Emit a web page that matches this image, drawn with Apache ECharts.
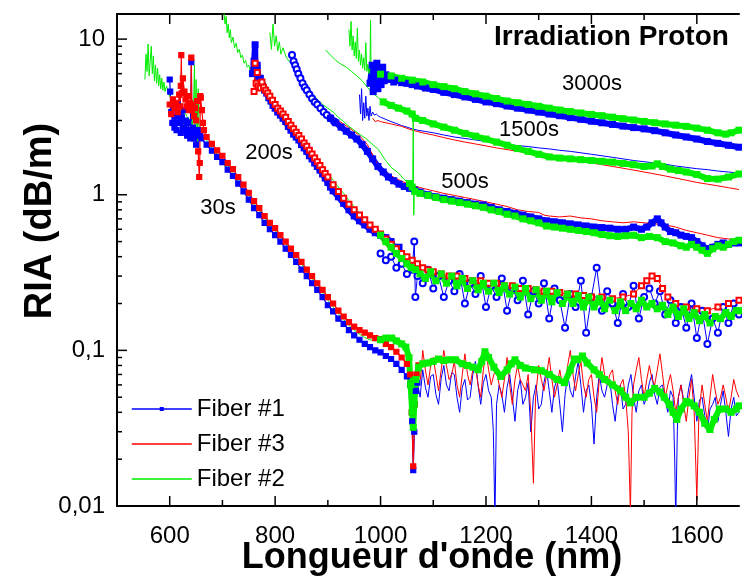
<!DOCTYPE html>
<html>
<head>
<meta charset="utf-8">
<script src="https://cdn.jsdelivr.net/npm/echarts@6/dist/echarts.min.js"></script>
<style>html,body{margin:0;padding:0;background:#fff}#c{width:742px;height:579px}</style>
</head>
<body>
<div id="c"></div>
<script>
// ---------- axis definitions ----------
const X_MIN = 500, X_MAX = 1680;
const Y_MIN = 0.01, Y_MAX = 14.5;
const xMajorTicks = [600, 800, 1000, 1200, 1400, 1600];
const xMinorTicks = [700, 900, 1100, 1300, 1500];
const yMajorTicks = [0.01, 0.1, 1, 10];
const yTickLabels = ['0,01', '0,1', '1', '10'];
const yMinorTicks = [0.02,0.03,0.04,0.05,0.06,0.07,0.08,0.09,0.2,0.3,0.4,0.5,0.6,0.7,0.8,0.9,2,3,4,5,6,7,8,9];
const curveLabels = ['30s', '200s', '500s', '1500s', '3000s'];
const legendNames = ['Fiber #1', 'Fiber #3', 'Fiber #2'];

// ---------- Fiber #1 (blue) ----------
const f1_30s = [[600,5.5],[601,4.6],[603,3.4],[605,2.9],[607,3.6],[609,2.7],[611,3.2],[613,2.6],[615,3.8],[617,2.9],[619,3.3],[621,2.5],[623,3.1],[625,2.7],[627,3.5],[629,2.6],[631,3.0],[633,2.4],[635,2.9],[637,2.6],[639,2.3],[641,7.1],[642,2.5],[644,2.7],[646,2.3],[648,2.5],[650,2.1],[653,2.6],[655,2.4],[658,2.45],[660,2.3],[670,2.1],[680,1.92],[690,1.75],[700,1.62],[710,1.45],[720,1.32],[730,1.18],[740,1.05],[750,0.93],[760,0.82],[770,0.74],[780,0.66],[790,0.6],[800,0.55],[810,0.5],[820,0.45],[830,0.41],[840,0.37],[850,0.33],[860,0.3],[870,0.27],[880,0.245],[890,0.22],[900,0.195],[910,0.178],[920,0.16],[930,0.148],[940,0.135],[950,0.125],[960,0.117],[970,0.11],[980,0.105],[990,0.1],[1000,0.097],[1010,0.092],[1020,0.088],[1030,0.082],[1040,0.075],[1050,0.068],[1056,0.06],[1060,0.035],[1062,0.017],[1064,0.03],[1067,0.055],[1070,0.062]];
const f1_30s_noise = [[1070,0.062],[1075,0.05],[1080,0.075],[1085,0.058],[1090,0.05],[1095,0.068],[1100,0.07],[1105,0.052],[1110,0.045],[1115,0.066],[1120,0.08],[1125,0.06],[1130,0.055],[1135,0.072],[1140,0.07],[1145,0.05],[1150,0.04],[1155,0.058],[1160,0.065],[1165,0.048],[1170,0.05],[1175,0.07],[1180,0.085],[1185,0.06],[1190,0.045],[1195,0.062],[1200,0.07],[1205,0.055],[1210,0.05],[1214,0.03],[1217,0.008],[1220,0.045],[1225,0.06],[1230,0.052],[1235,0.04],[1240,0.058],[1245,0.07],[1250,0.05],[1255,0.035],[1260,0.055],[1265,0.065],[1270,0.045],[1275,0.05],[1280,0.062],[1285,0.03],[1290,0.05],[1295,0.06],[1300,0.042],[1305,0.045],[1310,0.062],[1315,0.075],[1320,0.055],[1325,0.04],[1330,0.058],[1335,0.065],[1340,0.045],[1345,0.03],[1350,0.052],[1355,0.07],[1360,0.055],[1365,0.05],[1370,0.068],[1375,0.085],[1380,0.06],[1385,0.04],[1390,0.055],[1395,0.06],[1400,0.045],[1405,0.025],[1410,0.05],[1415,0.07],[1420,0.055],[1425,0.05],[1430,0.06],[1435,0.065],[1440,0.045],[1445,0.035],[1450,0.05],[1455,0.06],[1460,0.042],[1465,0.045],[1470,0.06],[1475,0.07],[1480,0.05],[1485,0.04],[1490,0.055],[1495,0.06],[1500,0.045],[1505,0.05],[1510,0.062],[1515,0.07],[1520,0.052],[1525,0.045],[1530,0.058],[1535,0.06],[1540,0.048],[1545,0.04],[1550,0.055],[1555,0.05],[1558,0.02],[1560,0.008],[1563,0.03],[1565,0.05],[1570,0.06],[1575,0.048],[1580,0.045],[1585,0.058],[1590,0.07],[1595,0.05],[1600,0.035],[1605,0.048],[1610,0.05],[1615,0.038],[1620,0.03],[1625,0.042],[1630,0.045],[1635,0.05],[1640,0.035],[1645,0.045],[1650,0.055],[1655,0.04],[1660,0.028],[1665,0.042],[1670,0.05],[1675,0.038],[1680,0.04]];
const f1_200s_thick = [[757,6.0],[760,7.2],[762,9.2],[763,6.2],[766,6.8],[769,5.5],[772,5.6],[776,5.0],[780,4.7],[784,4.5],[788,4.2],[792,4.0],[796,3.75],[800,3.6],[805,3.4],[810,3.25],[815,3.1],[820,2.95],[825,2.75],[830,2.6],[835,2.45],[840,2.35],[845,2.25],[850,2.1],[855,2.0],[860,1.9],[865,1.78],[870,1.7],[875,1.6],[880,1.52],[885,1.44],[890,1.36],[895,1.28],[900,1.2],[905,1.12],[910,1.06],[920,0.97],[930,0.88],[940,0.8],[950,0.73],[960,0.68],[970,0.64],[980,0.6],[990,0.57],[1000,0.55],[1010,0.53],[1020,0.5],[1030,0.43],[1035,0.46]];
const f1_200s_circ = [[1000,0.42],[1010,0.38],[1020,0.4],[1030,0.34],[1040,0.36],[1050,0.31],[1060,0.33],[1064,0.5],[1066,0.22],[1070,0.3],[1080,0.27],[1090,0.33],[1100,0.25],[1110,0.3],[1120,0.22],[1130,0.28],[1140,0.24],[1150,0.31],[1160,0.2],[1170,0.27],[1180,0.23],[1190,0.3],[1200,0.19],[1210,0.26],[1220,0.22],[1230,0.29],[1240,0.18],[1250,0.25],[1260,0.21],[1270,0.28],[1280,0.17],[1290,0.24],[1300,0.2],[1310,0.27],[1320,0.16],[1330,0.25],[1340,0.21],[1350,0.14],[1360,0.23],[1370,0.19],[1380,0.28],[1390,0.13],[1400,0.22],[1410,0.34],[1420,0.18],[1430,0.24],[1440,0.2],[1450,0.15],[1460,0.23],[1470,0.19],[1480,0.26],[1490,0.16],[1500,0.22],[1510,0.25],[1520,0.2],[1530,0.24],[1540,0.17],[1550,0.21],[1560,0.15],[1570,0.19],[1580,0.14],[1590,0.2],[1600,0.12],[1610,0.18],[1620,0.11],[1630,0.16],[1640,0.13],[1650,0.19],[1660,0.15],[1670,0.2],[1680,0.17]];
const f1_500s_circ = [[832,7.9],[835,7.2],[838,6.8],[841,6.4],[844,6.0],[848,5.6],[852,5.2],[856,4.9],[860,4.7],[865,4.4],[870,4.15],[875,3.95],[880,3.8],[886,3.6],[892,3.4],[898,3.25],[905,3.1],[912,2.95]];
const f1_500s_thick = [[905,3.1],[915,2.9],[925,2.72],[935,2.56],[945,2.42],[955,2.28],[965,2.1],[975,1.9],[985,1.7],[995,1.52],[1005,1.4],[1015,1.3],[1025,1.23],[1035,1.17],[1045,1.13],[1055,1.1],[1065,1.07],[1075,1.04],[1090,1.0],[1105,0.97],[1120,0.95],[1135,0.93],[1150,0.91],[1165,0.89],[1180,0.87],[1195,0.86],[1210,0.83],[1225,0.8],[1240,0.78],[1255,0.76],[1270,0.74],[1285,0.72],[1300,0.7],[1315,0.68],[1330,0.67],[1345,0.66],[1360,0.65],[1375,0.64],[1390,0.63],[1405,0.62],[1420,0.615],[1435,0.61],[1450,0.6],[1465,0.6],[1480,0.62],[1495,0.6],[1505,0.62],[1515,0.66],[1525,0.7],[1532,0.66],[1540,0.62],[1550,0.58],[1560,0.57],[1570,0.55],[1580,0.54],[1590,0.53],[1600,0.5],[1610,0.47],[1620,0.45],[1630,0.46],[1640,0.48],[1650,0.49],[1660,0.48],[1670,0.49],[1680,0.49]];
const f1_1500s = [[960,4.4],[962,3.3],[964,4.8],[966,3.0],[968,3.9],[970,3.1],[972,4.3],[974,3.2],[976,3.6],[978,3.0],[980,3.7],[982,3.2],[985,3.4],[988,3.25],[992,3.3],[996,3.2],[1000,3.15],[1010,3.05],[1020,2.95],[1030,2.87],[1040,2.78],[1050,2.72],[1060,2.65],[1070,2.6],[1085,2.55],[1100,2.5],[1120,2.42],[1140,2.35],[1160,2.3],[1180,2.25],[1200,2.2],[1220,2.15],[1240,2.1],[1260,2.07],[1280,2.04],[1300,2.0],[1320,1.97],[1340,1.93],[1360,1.9],[1380,1.86],[1400,1.82],[1420,1.78],[1440,1.74],[1460,1.7],[1480,1.66],[1500,1.63],[1520,1.6],[1540,1.57],[1560,1.53],[1580,1.5],[1600,1.47],[1620,1.45],[1640,1.42],[1660,1.4],[1680,1.38]];
const f1_3000s = [[980,5.2],[984,6.8],[986,4.6],[988,6.2],[990,5.0],[993,7.0],[995,4.8],[998,6.3],[1001,5.1],[1004,6.6],[1007,5.4],[1010,5.9],[1015,5.5],[1020,5.7],[1025,5.3],[1030,5.45],[1040,5.25],[1050,5.2],[1060,5.1],[1070,5.0],[1085,4.85],[1100,4.75],[1120,4.55],[1140,4.4],[1160,4.25],[1180,4.1],[1200,3.95],[1220,3.85],[1240,3.72],[1260,3.6],[1280,3.5],[1300,3.4],[1320,3.3],[1340,3.22],[1360,3.13],[1380,3.05],[1400,2.97],[1420,2.9],[1440,2.83],[1460,2.76],[1480,2.7],[1500,2.65],[1520,2.58],[1540,2.5],[1560,2.42],[1580,2.35],[1600,2.28],[1620,2.2],[1640,2.14],[1660,2.08],[1680,2.02]];

// ---------- Fiber #3 (red) ----------
const f3_1500s = [[985,3.1],[990,2.95],[995,3.0],[1000,2.95],[1020,2.85],[1040,2.75],[1060,2.6],[1080,2.5],[1100,2.42],[1120,2.33],[1140,2.25],[1160,2.18],[1180,2.12],[1200,2.06],[1220,2.0],[1240,1.95],[1260,1.9],[1280,1.86],[1300,1.82],[1320,1.77],[1340,1.72],[1360,1.68],[1380,1.64],[1400,1.6],[1420,1.56],[1440,1.52],[1460,1.48],[1480,1.44],[1500,1.4],[1520,1.36],[1540,1.32],[1560,1.28],[1580,1.24],[1600,1.2],[1620,1.17],[1640,1.14],[1660,1.11],[1680,1.08]];
const f3_500s = [[900,3.3],[920,3.0],[940,2.7],[960,2.4],[975,2.1],[985,1.8],[995,1.55],[1005,1.42],[1020,1.32],[1040,1.22],[1060,1.15],[1080,1.1],[1100,1.06],[1120,1.02],[1140,0.99],[1160,0.96],[1180,0.93],[1200,0.9],[1220,0.87],[1240,0.84],[1260,0.8],[1280,0.78],[1300,0.77],[1310,0.74],[1320,0.73],[1340,0.72],[1360,0.73],[1380,0.71],[1400,0.7],[1420,0.68],[1440,0.67],[1460,0.66],[1480,0.67],[1500,0.66],[1520,0.65],[1540,0.64],[1560,0.62],[1580,0.59],[1600,0.57],[1620,0.55],[1640,0.53],[1660,0.52],[1680,0.51]];
const f3_30s = [[600,3.8],[603,3.3],[606,4.1],[609,3.6],[612,3.9],[615,3.4],[618,4.4],[620,3.7],[621,5.0],[622,7.9],[623,4.5],[625,5.6],[628,4.6],[630,4.1],[632,3.7],[634,4.3],[636,3.5],[638,3.9],[640,3.6],[641,7.6],[642,3.5],[644,3.8],[646,3.2],[648,3.6],[650,3.0],[652,4.0],[654,1.9],[656,1.3],[657,1.6],[658,4.3],[659,4.2],[661,3.5],[663,2.9],[665,2.6],[670,2.35],[680,2.12],[690,1.93],[700,1.78],[710,1.6],[720,1.46],[730,1.3],[740,1.16],[750,1.03],[760,0.91],[770,0.82],[780,0.73],[790,0.66],[800,0.61],[810,0.55],[820,0.5],[830,0.45],[840,0.41],[850,0.37],[860,0.33],[870,0.3],[880,0.27],[890,0.245],[900,0.22],[910,0.2],[920,0.18],[930,0.165],[940,0.152],[950,0.142],[960,0.135],[970,0.13],[980,0.125],[990,0.12],[1000,0.118],[1010,0.11],[1020,0.105],[1030,0.098],[1040,0.09],[1050,0.082],[1056,0.07],[1059,0.04],[1062,0.018],[1065,0.045],[1068,0.07],[1072,0.08]];
const f3_30s_noise = [[1072,0.08],[1076,0.065],[1080,0.1],[1085,0.075],[1090,0.06],[1095,0.08],[1100,0.09],[1105,0.07],[1110,0.055],[1115,0.075],[1120,0.1],[1125,0.08],[1130,0.065],[1135,0.07],[1140,0.085],[1145,0.06],[1150,0.05],[1155,0.07],[1160,0.095],[1165,0.07],[1170,0.06],[1175,0.075],[1180,0.08],[1185,0.06],[1190,0.05],[1195,0.075],[1200,0.1],[1205,0.075],[1210,0.06],[1215,0.07],[1220,0.075],[1225,0.06],[1230,0.05],[1235,0.065],[1240,0.09],[1245,0.06],[1250,0.045],[1255,0.065],[1260,0.08],[1265,0.065],[1270,0.06],[1275,0.055],[1280,0.07],[1285,0.04],[1290,0.014],[1294,0.05],[1300,0.08],[1305,0.065],[1310,0.055],[1315,0.07],[1320,0.09],[1325,0.065],[1330,0.05],[1335,0.06],[1340,0.075],[1345,0.06],[1350,0.06],[1355,0.08],[1360,0.1],[1365,0.07],[1370,0.055],[1375,0.07],[1380,0.085],[1385,0.06],[1390,0.05],[1395,0.065],[1400,0.07],[1405,0.05],[1410,0.04],[1415,0.065],[1420,0.09],[1425,0.07],[1430,0.06],[1435,0.07],[1440,0.075],[1445,0.055],[1450,0.045],[1455,0.06],[1460,0.065],[1465,0.05],[1470,0.03],[1474,0.009],[1477,0.04],[1480,0.06],[1485,0.075],[1490,0.09],[1495,0.065],[1500,0.05],[1505,0.065],[1510,0.08],[1515,0.065],[1520,0.06],[1525,0.075],[1530,0.095],[1535,0.07],[1540,0.05],[1545,0.06],[1550,0.07],[1555,0.055],[1560,0.04],[1565,0.05],[1570,0.06],[1575,0.045],[1580,0.035],[1585,0.05],[1590,0.065],[1595,0.04],[1600,0.011],[1604,0.04],[1610,0.06],[1615,0.045],[1620,0.035],[1625,0.05],[1630,0.07],[1635,0.055],[1640,0.045],[1645,0.05],[1650,0.06],[1655,0.05],[1660,0.04],[1665,0.05],[1670,0.065],[1675,0.055],[1680,0.05]];
const f3_200s = [[760,4.6],[762,7.0],[764,5.2],[766,6.1],[768,5.0],[772,4.85],[775,5.3],[778,4.9],[782,4.7],[786,4.5],[790,4.3],[795,4.05],[800,3.8],[805,3.6],[810,3.45],[815,3.3],[820,3.15],[825,2.95],[830,2.8],[835,2.65],[840,2.52],[845,2.4],[850,2.28],[855,2.15],[860,2.05],[865,1.93],[870,1.83],[875,1.72],[880,1.63],[885,1.54],[890,1.45],[895,1.37],[900,1.3],[910,1.16],[920,1.05],[930,0.95],[940,0.87],[950,0.8],[960,0.74],[970,0.69],[980,0.64],[990,0.6],[1000,0.56],[1010,0.52],[1020,0.48],[1030,0.45],[1040,0.42],[1050,0.4],[1060,0.38],[1070,0.36],[1080,0.34],[1090,0.33],[1100,0.32],[1115,0.31],[1130,0.3],[1145,0.3],[1160,0.29],[1175,0.28],[1190,0.28],[1205,0.27],[1220,0.27],[1235,0.26],[1250,0.26],[1265,0.25],[1280,0.25],[1295,0.245],[1310,0.24],[1325,0.24],[1340,0.235],[1355,0.23],[1370,0.23],[1385,0.225],[1400,0.22],[1420,0.22],[1440,0.215],[1460,0.22],[1480,0.23],[1495,0.26],[1505,0.28],[1515,0.3],[1525,0.29],[1535,0.25],[1545,0.22],[1560,0.2],[1580,0.19],[1600,0.185],[1620,0.18],[1640,0.19],[1660,0.2],[1680,0.21]];

// ---------- Fiber #2 (green) ----------
const f2_30s_thin = [[553,5.5],[555,8.0],[557,6.2],[559,9.3],[561,5.8],[563,7.2],[565,9.0],[567,6.0],[569,7.8],[571,5.4],[573,6.8],[575,5.2],[577,6.5],[579,5.0],[581,5.9],[583,4.8],[585,5.6],[587,4.7],[589,5.3],[591,4.6],[594,5.0],[597,4.5],[600,4.3],[605,4.0],[610,3.8],[615,3.7],[620,3.5],[625,3.4],[630,3.3],[635,3.1],[640,3.0],[643,2.8],[645,3.5],[647,6.8],[648,2.6],[650,5.5],[652,2.0],[654,4.8],[656,2.4],[660,2.5],[667,2.3],[672,2.2],[680,2.0],[690,1.82],[700,1.68],[705,1.52],[710,1.55],[720,1.36],[725,1.33],[730,1.22],[740,1.1],[745,1.0],[750,0.99],[760,0.86],[770,0.8],[775,0.72],[780,0.72],[790,0.63],[800,0.6],[805,0.54],[810,0.54],[820,0.48],[830,0.44],[840,0.39],[850,0.36],[860,0.32],[870,0.29],[880,0.265],[890,0.235],[900,0.21],[910,0.19],[920,0.172],[930,0.158],[940,0.145],[950,0.135],[960,0.127],[970,0.121],[980,0.117],[990,0.115],[1000,0.117]];
const f2_200s_thin = [[702,16],[705,12.5],[707,14],[709,11],[711,12.5],[713,10.2],[715,11.5],[717,9.5],[720,10.3],[723,8.8],[726,9.4],[729,8.2],[732,8.6],[735,7.6],[738,7.9],[741,7.0],[744,7.3],[747,6.6],[750,6.8],[753,6.2],[756,6.1],[760,5.9],[765,5.6],[770,5.3],[775,5.0],[780,4.75],[790,4.35],[800,3.95],[810,3.6],[820,3.25],[830,2.95],[840,2.65],[850,2.4],[860,2.15],[870,1.92],[880,1.72],[890,1.53],[900,1.38],[910,1.24],[920,1.12],[930,1.02],[940,0.92],[950,0.84],[960,0.76],[970,0.7],[980,0.64],[990,0.59],[1000,0.55]];
const f2_500s_thin = [[790,11.0],[793,8.6],[796,12.5],[799,9.0],[802,10.5],[805,8.4],[808,9.6],[811,8.0],[815,8.8],[820,7.8],[825,7.3],[830,7.0],[835,6.6],[840,6.3],[845,6.0],[852,5.5],[860,5.0],[870,4.5],[880,4.1],[890,3.8],[900,3.6],[910,3.4],[920,3.15],[930,2.95],[940,2.75],[950,2.6],[960,2.45],[972,2.3],[985,2.1],[996,1.95],[1010,1.65],[1020,1.5],[1034,1.38],[1045,1.25],[1055,1.18],[1061,1.12],[1062,3.0],[1063,0.74],[1064,1.08],[1068,1.04]];
const f2_1500s_thin = [[896,8.5],[905,7.9],[915,7.3],[925,6.9],[935,6.6],[945,6.2],[955,5.8],[965,5.4],[975,4.9],[985,4.5],[996,4.2],[1005,3.95]];
const f2_3000s_thin = [[940,11.5],[942,9.0],[944,13.0],[946,8.5],[948,10.5],[950,7.8],[952,9.6],[954,7.5],[956,11.8],[958,7.2],[960,8.5],[962,6.8],[964,8.0],[966,6.5],[968,7.6],[970,6.3],[972,9.5],[974,6.2],[976,6.9],[978,6.0],[980,6.6],[981,13.2],[982,6.5],[984,5.9],[986,6.3],[990,6.1],[995,6.0],[1000,5.95]];
const f2_30s_thick = [[1000,0.117],[1010,0.12],[1021,0.12],[1030,0.115],[1040,0.11],[1048,0.105],[1054,0.09],[1057,0.06],[1060,0.04],[1062,0.032],[1064,0.045],[1067,0.065],[1072,0.078],[1080,0.082],[1090,0.083],[1100,0.085],[1110,0.088],[1120,0.086],[1130,0.087],[1142,0.087],[1155,0.082],[1165,0.08],[1175,0.078],[1185,0.075],[1192,0.085],[1198,0.098],[1205,0.09],[1215,0.078],[1228,0.068],[1240,0.075],[1248,0.082],[1255,0.087],[1265,0.08],[1275,0.077],[1292,0.075],[1305,0.074],[1320,0.07],[1335,0.065],[1349,0.062],[1360,0.075],[1368,0.088],[1374,0.087],[1383,0.092],[1392,0.083],[1405,0.075],[1415,0.07],[1425,0.065],[1440,0.06],[1455,0.055],[1465,0.05],[1474,0.046],[1485,0.05],[1500,0.05],[1510,0.053],[1520,0.057],[1530,0.054],[1538,0.05],[1548,0.045],[1555,0.04],[1562,0.036],[1570,0.042],[1580,0.047],[1587,0.046],[1595,0.044],[1605,0.04],[1615,0.034],[1625,0.031],[1633,0.036],[1643,0.042],[1655,0.042],[1665,0.04],[1675,0.042],[1680,0.044]];
const f2_200s_thick = [[1000,0.55],[1010,0.5],[1020,0.46],[1030,0.42],[1040,0.39],[1050,0.36],[1058,0.34],[1066,0.33],[1075,0.31],[1085,0.29],[1095,0.32],[1105,0.28],[1115,0.31],[1125,0.27],[1135,0.3],[1145,0.26],[1155,0.29],[1165,0.25],[1175,0.28],[1185,0.245],[1195,0.27],[1205,0.24],[1215,0.27],[1225,0.235],[1235,0.26],[1245,0.23],[1255,0.255],[1265,0.22],[1275,0.25],[1285,0.215],[1295,0.245],[1305,0.21],[1315,0.24],[1325,0.205],[1335,0.235],[1345,0.2],[1355,0.23],[1365,0.2],[1375,0.225],[1385,0.19],[1395,0.22],[1405,0.19],[1415,0.215],[1425,0.185],[1435,0.21],[1445,0.18],[1455,0.205],[1465,0.18],[1475,0.2],[1485,0.185],[1495,0.21],[1505,0.19],[1515,0.2],[1525,0.185],[1535,0.195],[1545,0.17],[1555,0.19],[1565,0.165],[1575,0.185],[1585,0.16],[1595,0.175],[1605,0.155],[1615,0.17],[1625,0.15],[1635,0.165],[1645,0.16],[1655,0.175],[1665,0.165],[1675,0.18],[1680,0.18]];
const f2_500s_thick = [[1055,1.18],[1060,1.12],[1065,1.05],[1075,1.02],[1090,0.99],[1105,0.96],[1120,0.93],[1135,0.91],[1150,0.89],[1165,0.87],[1180,0.85],[1195,0.83],[1210,0.8],[1225,0.78],[1240,0.75],[1255,0.73],[1270,0.7],[1285,0.68],[1300,0.66],[1315,0.63],[1330,0.62],[1345,0.61],[1360,0.6],[1375,0.59],[1390,0.58],[1405,0.57],[1420,0.555],[1435,0.545],[1450,0.54],[1465,0.545],[1480,0.55],[1495,0.53],[1510,0.54],[1525,0.53],[1540,0.5],[1555,0.49],[1570,0.47],[1580,0.46],[1590,0.48],[1600,0.46],[1610,0.44],[1620,0.42],[1630,0.45],[1640,0.47],[1650,0.46],[1660,0.48],[1670,0.5],[1680,0.51]];
const f2_1500s_thick = [[1005,3.95],[1020,3.75],[1034,3.6],[1050,3.45],[1060,3.3],[1066,3.1],[1080,3.0],[1100,2.85],[1120,2.72],[1140,2.6],[1160,2.48],[1180,2.38],[1200,2.28],[1220,2.18],[1240,2.08],[1260,1.98],[1280,1.9],[1300,1.82],[1320,1.75],[1340,1.72],[1360,1.7],[1380,1.68],[1400,1.66],[1420,1.64],[1440,1.62],[1460,1.59],[1480,1.56],[1500,1.52],[1515,1.53],[1525,1.58],[1535,1.52],[1550,1.46],[1565,1.43],[1580,1.4],[1600,1.35],[1620,1.27],[1640,1.26],[1660,1.3],[1680,1.36]];
const f2_3000s_thick = [[1000,5.95],[1020,5.8],[1040,5.6],[1060,5.45],[1080,5.3],[1100,5.1],[1120,4.95],[1140,4.8],[1160,4.6],[1180,4.45],[1200,4.3],[1220,4.15],[1240,4.0],[1260,3.9],[1280,3.8],[1300,3.7],[1320,3.6],[1340,3.5],[1360,3.42],[1380,3.35],[1400,3.28],[1420,3.22],[1440,3.15],[1460,3.08],[1480,3.02],[1500,2.96],[1520,2.9],[1540,2.85],[1560,2.8],[1580,2.75],[1600,2.68],[1620,2.6],[1640,2.5],[1655,2.45],[1665,2.5],[1680,2.6]];

// ---------- styles ----------
const BLUE = '#0000ff', RED = '#ff0000', GREEN = '#00ee00';
const FONT = "'Liberation Sans', Arial, sans-serif";

function thin(name, color, data) {
  return {type:'line', name, data, color, symbol:'none', showSymbol:false,
    lineStyle:{width:1, color}, silent:true, emphasis:{disabled:true}, animation:false};
}
function thick(name, color, data) {
  return {type:'line', name, data, color, symbol:'rect', symbolSize:7, showSymbol:true, showAllSymbol:true,
    itemStyle:{color}, lineStyle:{width:6, color}, silent:true, emphasis:{disabled:true}, animation:false};
}
function marked(name, color, data, sym, size, lw) {
  return {type:'line', name, data, color, symbol:sym, symbolSize:size, showSymbol:true, showAllSymbol:true,
    itemStyle:{color, borderColor:color, borderWidth:1.2}, lineStyle:{width:lw, color}, silent:true, emphasis:{disabled:true}, animation:false};
}

const series = [
  marked('Fiber #1', BLUE, f1_30s, 'rect', 5, 1.2),
  thin('Fiber #1', BLUE, f1_30s_noise),
  thick('Fiber #1', BLUE, f1_200s_thick),
  marked('Fiber #1', BLUE, f1_200s_circ, 'emptyCircle', 6, 1),
  marked('Fiber #1', BLUE, f1_500s_circ, 'emptyCircle', 6, 1),
  thick('Fiber #1', BLUE, f1_500s_thick),
  thin('Fiber #1', BLUE, f1_1500s),
  thick('Fiber #1', BLUE, f1_3000s),
  thin('Fiber #3', RED, f3_1500s),
  thin('Fiber #3', RED, f3_500s),
  marked('Fiber #3', RED, f3_30s, 'rect', 5, 1.2),
  thin('Fiber #3', RED, f3_30s_noise),
  marked('Fiber #3', RED, f3_200s, 'emptyRect', 5, 1),
  thin('Fiber #2', GREEN, f2_30s_thin),
  thin('Fiber #2', GREEN, f2_200s_thin),
  thin('Fiber #2', GREEN, f2_500s_thin),
  thin('Fiber #2', GREEN, f2_1500s_thin),
  thin('Fiber #2', GREEN, f2_3000s_thin),
  thick('Fiber #2', GREEN, f2_30s_thick),
  thick('Fiber #2', GREEN, f2_200s_thick),
  thick('Fiber #2', GREEN, f2_500s_thick),
  thick('Fiber #2', GREEN, f2_1500s_thick),
  thick('Fiber #2', GREEN, f2_3000s_thick)
];

const chart = echarts.init(document.getElementById('c'), null, {renderer:'canvas'});
const option = {
  animation:false,
  backgroundColor:'#fff',
  grid:{left:117, right:0, top:14, bottom:73, containLabel:false},
  xAxis:[{
    type:'value', min:X_MIN, max:X_MAX, interval:100, position:'bottom',
    axisLine:{show:true, lineStyle:{color:'#000', width:2}},
    axisTick:{show:false}, splitLine:{show:false},
    axisLabel:{color:'#000', fontSize:24, fontFamily:FONT, margin:18,
      formatter:v => (xMajorTicks.indexOf(Math.round(v)) >= 0 ? String(Math.round(v)) : '')}
  },{
    type:'value', min:X_MIN, max:X_MAX, interval:100, position:'top',
    axisLine:{show:true, onZero:false, lineStyle:{color:'#000', width:2}},
    axisTick:{show:false}, axisLabel:{show:false}, splitLine:{show:false}
  }],
  yAxis:{
    type:'log', logBase:10, min:Y_MIN, max:Y_MAX,
    axisLine:{show:true, lineStyle:{color:'#000', width:2}},
    axisTick:{show:false}, splitLine:{show:false}, minorTick:{show:false},
    axisLabel:{color:'#000', fontSize:24, fontFamily:FONT, margin:12, showMaxLabel:false,
      formatter:v => { const e = Math.log10(v); const r = Math.round(e);
        if (Math.abs(e - r) > 0.01) return ''; const i = yMajorTicks.indexOf(Math.pow(10, r));
        return i >= 0 ? yTickLabels[i] : ''; }}
  },
  legend:{
    orient:'vertical', left:126, top:392, itemWidth:60, itemHeight:5, itemGap:11, itemTextGap:4,
    textStyle:{color:'#000', fontSize:24, fontFamily:FONT, lineHeight:24},
    lineStyle:{width:1.5}, itemStyle:{borderWidth:0},
    data:[
      {name:legendNames[0]},
      {name:legendNames[1], itemStyle:{opacity:0}},
      {name:legendNames[2], itemStyle:{opacity:0}}
    ],
    selectedMode:false
  },
  series
};
chart.setOption(option);

// ---------- decorations: ticks, titles, curve labels ----------
const px = (x, y) => chart.convertToPixel({xAxisIndex:0, yAxisIndex:0}, [x, y]);
const g = [];
const tick = (x1, y1, x2, y2) => g.push({type:'line', shape:{x1, y1, x2, y2}, style:{stroke:'#000', lineWidth:1.5}, z:100, silent:true});
xMajorTicks.forEach(v => { const b = px(v, Y_MIN), t = px(v, Y_MAX); tick(b[0], b[1], b[0], b[1] - 10); tick(t[0], t[1], t[0], t[1] + 10); });
xMinorTicks.forEach(v => { const b = px(v, Y_MIN), t = px(v, Y_MAX); tick(b[0], b[1], b[0], b[1] - 6); tick(t[0], t[1], t[0], t[1] + 6); });
yMajorTicks.forEach(v => { const p = px(X_MIN, v); tick(p[0], p[1], p[0] + 10, p[1]); });
yMinorTicks.forEach(v => { const p = px(X_MIN, v); tick(p[0], p[1], p[0] + 5, p[1]); });

const txt = (text, x, y, size, weight, align, rot) => g.push({type:'text', x, y, rotation:rot || 0, z:110, silent:true,
  style:{text, fill:'#000', font:`${weight} ${size}px ${FONT}`, textAlign:align || 'center', textVerticalAlign:'middle'}});
txt('Irradiation Proton', 494, 37, 28, 'bold', 'left');
txt(curveLabels[4], 592, 84, 22, 'normal');
txt(curveLabels[3], 529, 130, 22, 'normal');
txt(curveLabels[2], 465, 182, 22, 'normal');
txt(curveLabels[1], 269, 153, 22, 'normal');
txt(curveLabels[0], 218, 208, 22, 'normal');
txt('RIA (dB/m)', 41, 221, 38, 'bold', 'center', Math.PI / 2);
txt("Longueur d'onde (nm)", 432, 558, 36, 'bold', 'center');
chart.setOption({graphic:g});
</script>
</body>
</html>
